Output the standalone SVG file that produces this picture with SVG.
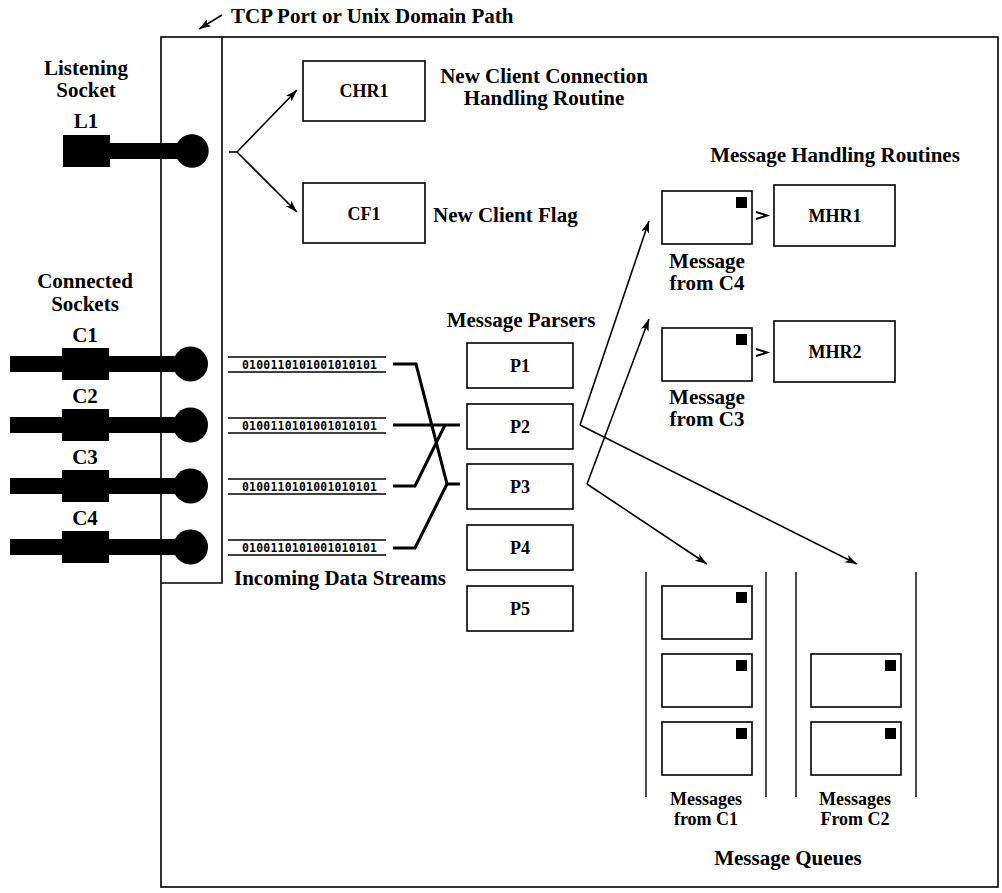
<svg xmlns="http://www.w3.org/2000/svg" width="1002" height="893" viewBox="0 0 1002 893">
  <style>
    .t { font-family: "Liberation Serif", "Times New Roman", serif; font-weight: bold; fill: #000; }
    .lbl { font-size: 21px; }
    .node { font-size: 18px; }
    .q { font-size: 18px; }
    .box { fill: #fff; stroke: #000; stroke-width: 1.6; }
    .frame { fill: none; stroke: #000; stroke-width: 1.6; }
    .bits { font-family: "DejaVu Sans Mono", "Liberation Mono", monospace; font-weight: bold; font-size: 11.5px; fill: #000; }
    .rail { stroke: #000; stroke-width: 1.4; }
    .wire { fill: none; stroke: #000; stroke-width: 3; }
    .arrow { fill: none; stroke: #000; stroke-width: 1.6; marker-end: url(#head); }
    .chev { fill: none; stroke: #000; stroke-width: 2; }
    .stamp { fill: #000; }
  </style>
  <defs>
    <marker id="head" markerUnits="userSpaceOnUse" markerWidth="14" markerHeight="10" refX="12" refY="4" orient="auto">
      <path d="M0,0 L12,4 L0,8 L3,4 z" fill="#000"/>
    </marker>
    <!-- socket plug used for connected sockets -->
    <g id="plug">
      <rect x="10" y="-8" width="180" height="16" fill="#000"/>
      <rect x="62" y="-16" width="47" height="32" fill="#000"/>
      <circle cx="190.5" cy="0" r="17.5" fill="#000"/>
    </g>
    <!-- envelope with stamp -->
    <g id="env">
      <rect x="0" y="0" width="90" height="53" class="box"/>
      <rect x="74" y="6" width="11" height="11" class="stamp"/>
    </g>
  </defs>

  <rect width="1002" height="893" fill="#fff"/>

  <!-- outer process frame and socket strip -->
  <g id="frame">
    <rect x="161" y="37" width="837" height="850" class="frame"/>
    <polyline points="222,37 222,583 161,583" class="frame"/>
  </g>

  <text class="t lbl" x="231" y="23">TCP Port or Unix Domain Path</text>

  <!-- listening socket -->
  <g id="listen">
    <text class="t lbl" x="86" y="75" text-anchor="middle">Listening</text>
    <text class="t lbl" x="86" y="97" text-anchor="middle">Socket</text>
    <text class="t lbl" x="86" y="128" text-anchor="middle">L1</text>
    <rect x="63" y="135" width="47" height="32" fill="#000"/>
    <rect x="108" y="143" width="80" height="16" fill="#000"/>
    <circle cx="192" cy="151" r="16.7" fill="#000"/>
  </g>

  <!-- connected sockets -->
  <g id="connected">
    <text class="t lbl" x="85" y="288" text-anchor="middle">Connected</text>
    <text class="t lbl" x="85" y="311" text-anchor="middle">Sockets</text>
    <g id="c1"><text class="t lbl" x="85" y="342" text-anchor="middle">C1</text><use href="#plug" y="364"/></g>
    <g id="c2"><text class="t lbl" x="85" y="403" text-anchor="middle">C2</text><use href="#plug" y="425"/></g>
    <g id="c3"><text class="t lbl" x="85" y="464" text-anchor="middle">C3</text><use href="#plug" y="486"/></g>
    <g id="c4"><text class="t lbl" x="85" y="525" text-anchor="middle">C4</text><use href="#plug" y="547"/></g>
  </g>

  <!-- new-connection handling -->
  <g id="chr1">
    <rect x="303" y="61" width="122" height="60" class="box"/>
    <text class="t node" x="364" y="97" text-anchor="middle">CHR1</text>
    <text class="t lbl" x="544" y="83" text-anchor="middle">New Client Connection</text>
    <text class="t lbl" x="544" y="105" text-anchor="middle">Handling Routine</text>
  </g>
  <g id="cf1">
    <rect x="303" y="183" width="122" height="60" class="box"/>
    <text class="t node" x="364" y="220" text-anchor="middle">CF1</text>
    <text class="t lbl" x="433" y="222">New Client Flag</text>
  </g>

  <!-- incoming data streams -->
  <g id="streams">
    <g id="s1">
      <line x1="228" y1="357" x2="386" y2="357" class="rail"/>
      <line x1="228" y1="372" x2="386" y2="372" class="rail"/>
      <text class="bits" x="242" y="369" textLength="135">0100110101001010101</text>
    </g>
    <g id="s2">
      <line x1="228" y1="418" x2="386" y2="418" class="rail"/>
      <line x1="228" y1="433" x2="386" y2="433" class="rail"/>
      <text class="bits" x="242" y="430" textLength="135">0100110101001010101</text>
    </g>
    <g id="s3">
      <line x1="228" y1="479" x2="386" y2="479" class="rail"/>
      <line x1="228" y1="494" x2="386" y2="494" class="rail"/>
      <text class="bits" x="242" y="491" textLength="135">0100110101001010101</text>
    </g>
    <g id="s4">
      <line x1="228" y1="540" x2="386" y2="540" class="rail"/>
      <line x1="228" y1="555" x2="386" y2="555" class="rail"/>
      <text class="bits" x="242" y="552" textLength="135">0100110101001010101</text>
    </g>
    <text class="t lbl" x="340" y="585" text-anchor="middle">Incoming Data Streams</text>
  </g>

  <!-- message parsers -->
  <g id="parsers">
    <text class="t lbl" x="521" y="327" text-anchor="middle">Message Parsers</text>
    <g id="p1"><rect x="467" y="343" width="106" height="45" class="box"/><text class="t node" x="520" y="372" text-anchor="middle">P1</text></g>
    <g id="p2"><rect x="467" y="404" width="106" height="45" class="box"/><text class="t node" x="520" y="433" text-anchor="middle">P2</text></g>
    <g id="p3"><rect x="467" y="464" width="106" height="45" class="box"/><text class="t node" x="520" y="493" text-anchor="middle">P3</text></g>
    <g id="p4"><rect x="467" y="525" width="106" height="45" class="box"/><text class="t node" x="520" y="554" text-anchor="middle">P4</text></g>
    <g id="p5"><rect x="467" y="586" width="106" height="45" class="box"/><text class="t node" x="520" y="615" text-anchor="middle">P5</text></g>
  </g>

  <!-- message handling routines -->
  <g id="handlers">
    <text class="t lbl" x="835" y="162" text-anchor="middle">Message Handling Routines</text>
    <g id="msg-c4">
      <use href="#env" x="662" y="191"/>
      <text class="t lbl" x="707" y="268" text-anchor="middle">Message</text>
      <text class="t lbl" x="707" y="290" text-anchor="middle">from C4</text>
    </g>
    <g id="mhr1">
      <rect x="774" y="185" width="121" height="61" class="box"/>
      <text class="t node" x="835" y="222" text-anchor="middle">MHR1</text>
    </g>
    <g id="msg-c3">
      <use href="#env" x="662" y="328"/>
      <text class="t lbl" x="707" y="404" text-anchor="middle">Message</text>
      <text class="t lbl" x="707" y="426" text-anchor="middle">from C3</text>
    </g>
    <g id="mhr2">
      <rect x="774" y="321" width="121" height="61" class="box"/>
      <text class="t node" x="835" y="358" text-anchor="middle">MHR2</text>
    </g>
  </g>

  <!-- message queues -->
  <g id="queues">
    <g id="queue-c1">
      <line x1="646" y1="572" x2="646" y2="797" class="rail"/>
      <line x1="766" y1="572" x2="766" y2="797" class="rail"/>
      <use href="#env" x="662" y="586"/>
      <use href="#env" x="662" y="654"/>
      <use href="#env" x="662" y="722"/>
      <text class="t q" x="706" y="805" text-anchor="middle">Messages</text>
      <text class="t q" x="706" y="825" text-anchor="middle">from C1</text>
    </g>
    <g id="queue-c2">
      <line x1="796" y1="572" x2="796" y2="797" class="rail"/>
      <line x1="916" y1="572" x2="916" y2="797" class="rail"/>
      <use href="#env" x="811" y="654"/>
      <use href="#env" x="811" y="722"/>
      <text class="t q" x="855" y="805" text-anchor="middle">Messages</text>
      <text class="t q" x="855" y="825" text-anchor="middle">From C2</text>
    </g>
    <text class="t lbl" x="788" y="865" text-anchor="middle">Message Queues</text>
  </g>

  <!-- connectors -->
  <g id="connectors">
    <line x1="222" y1="15" x2="199" y2="29" class="arrow"/>
    <line x1="229" y1="152" x2="237" y2="152" class="frame"/>
    <line x1="237" y1="152" x2="297" y2="90" class="arrow"/>
    <line x1="237" y1="152" x2="297" y2="212" class="arrow"/>

    <!-- streams routed to parsers -->
    <polyline points="393,364 416,364 447,484 460,484" class="wire"/>
    <polyline points="393,425 460,425" class="wire"/>
    <polyline points="393,486 415,486 445,425" class="wire"/>
    <polyline points="393,548 415,548 447,484" class="wire"/>

    <!-- parsers to handlers and queues -->
    <line x1="580" y1="425" x2="649" y2="221" class="arrow"/>
    <line x1="580" y1="425" x2="857" y2="564" class="arrow"/>
    <line x1="587" y1="484" x2="649" y2="319" class="arrow"/>
    <line x1="587" y1="484" x2="707" y2="564" class="arrow"/>

    <!-- envelope to handler -->
    <polyline points="756,212 767,215.5 756,219" class="chev"/>
    <polyline points="756,349 767,352.5 756,356" class="chev"/>
  </g>
</svg>
